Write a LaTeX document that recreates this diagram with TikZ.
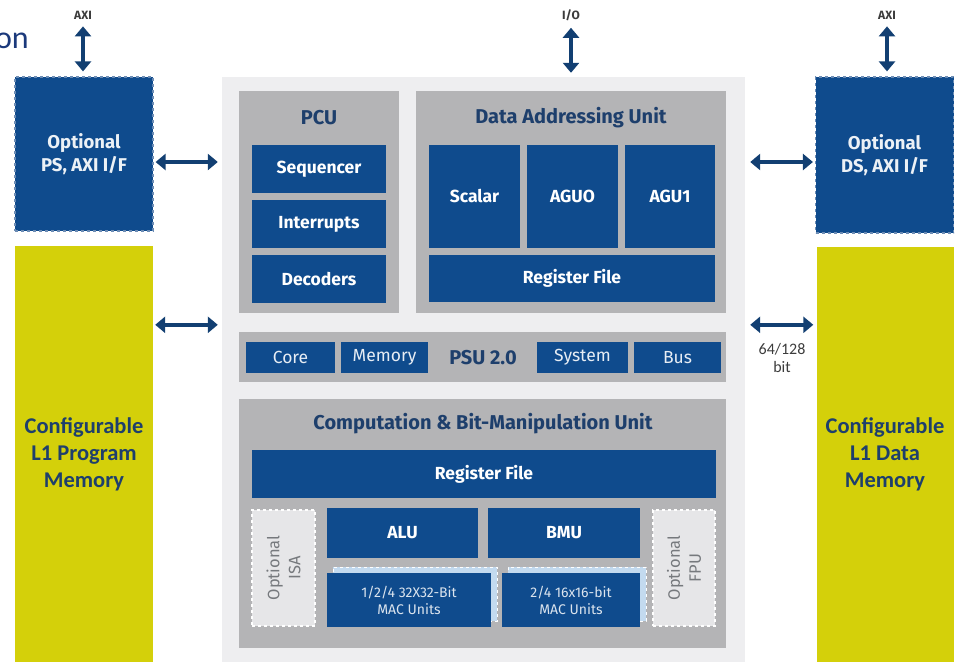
\documentclass[tikz,border=0pt]{standalone}
\usepackage{fontspec}
\setmainfont{Fira Sans}
\newfontfamily\calfont{Carlito}
\usetikzlibrary{arrows.meta,calc}

\definecolor{unitblue}{HTML}{0F4B8D}
\definecolor{framegray}{HTML}{B4B4B6}
\definecolor{pagegray}{HTML}{EEEEF0}
\definecolor{memyellow}{HTML}{D4D00A}
\definecolor{titleblue}{HTML}{1E3F6C}
\definecolor{arrowblue}{HTML}{123F72}
\definecolor{optgray}{HTML}{E6E6E8}
\definecolor{optborder}{HTML}{6D8DB5}
\definecolor{macframe}{HTML}{C3DAEF}
\definecolor{labelgray}{HTML}{3C3C3C}

\tikzset{
  sz/.style 2 args={minimum width=#1pt, minimum height=#2pt},
  base/.style={rectangle, inner sep=0pt, align=center},
  unit/.style={base, fill=unitblue, text=white,
    font=\fontsize{17.5}{20}\selectfont\bfseries},
  psuitem/.style={base, fill=unitblue, text=white!90!unitblue,
    font=\fontsize{17.5}{20}\selectfont},
  macunit/.style={base, fill=unitblue, text=white!85!unitblue,
    font=\fontsize{14}{17}\selectfont},
  macback/.style={base, fill=macframe, draw=white, dashed, line width=0.8pt},
  block/.style={base, fill=framegray},
  blocktitle/.style={inner sep=0pt, text=titleblue,
    font=\fontsize{20}{24}\selectfont\bfseries},
  optif/.style={base, fill=unitblue, draw=optborder, dashed, line width=1.2pt,
    text=white!92!unitblue, font=\fontsize{18.5}{23}\selectfont\bfseries},
  optunit/.style={base, fill=optgray, draw=white, dashed, line width=1.2pt,
    text=gray!90!titleblue, font=\fontsize{16.5}{21}\selectfont},
  memory/.style={base, fill=memyellow, text=titleblue,
    font=\calfont\fontsize{22.5}{27}\selectfont\bfseries},
  portlabel/.style={inner sep=0pt, text=labelgray,
    font=\fontsize{12}{14}\selectfont\bfseries},
  bi/.style={draw=arrowblue, line width=4.5pt,
    {Triangle[width=16pt,length=10pt]}-{Triangle[width=16pt,length=10pt]}},
}

\begin{document}
\begin{tikzpicture}[x=1pt,y=-1pt]
\useasboundingbox (0,0) rectangle (955,662);

% tail of the heading line
\node[anchor=base east, inner sep=0pt, text=titleblue!90!blue,
  font=\calfont\fontsize{32}{36}\selectfont] (head) at (29,48) {on};

% processor core background
\node[base, fill=pagegray, sz={523}{585}] (main) at (483.5,369.5) {};

% program side
\node[optif, sz={138}{154}] (ps) at (84,154) {Optional\\PS, AXI I/F};
\node[memory, sz={138}{416}] (pmem) at (84,454) {Configurable\\L1 Program\\Memory};

% data side
\node[optif, sz={138}{156}] (ds) at (884.5,155) {Optional\\DS, AXI I/F};
\node[memory, sz={137}{415}] (dmem) at (885,454.5) {Configurable\\L1 Data\\Memory};

% port labels
\node[portlabel] (axil) at (83,15) {AXI};
\node[portlabel] (io) at (571,15) {I/O};
\node[portlabel] (axir) at (887,15) {AXI};

% PCU
\node[block, sz={160}{222}] (pcu) at (319,202) {};
\node[blocktitle] (pcut) at (319,118) {PCU};
\node[unit, sz={134}{48}] (seq) at (319,169) {Sequencer};
\node[unit, sz={134}{48}] (irq) at (319,224) {Interrupts};
\node[unit, sz={134}{48}] (dec) at (319,279) {Decoders};

% Data Addressing Unit
\node[block, sz={310}{222}] (dau) at (571,202) {};
\node[blocktitle] (daut) at (571,118) {Data Addressing Unit};
\node[unit, sz={91}{103}] (scalar) at (474.5,196.5) {Scalar};
\node[unit, sz={91}{103}] (agu0) at (572.5,196.5) {AGUO};
\node[unit, sz={90}{103}] (agu1) at (670,196.5) {AGU1};
\node[unit, sz={286}{47}] (darf) at (572,278.5) {Register File};

% PSU 2.0 bar
\node[block, sz={487}{50}] (psu) at (482.5,357) {};
\node[psuitem, sz={89}{31}] (pcore) at (290.5,357.5) {Core};
\node[psuitem, sz={87}{31}] (pmemu) at (384.5,357.5) {Memory};
\node[blocktitle] (psut) at (483,357.5) {PSU 2.0};
\node[psuitem, sz={91}{31}] (psys) at (582.5,357.5) {System};
\node[psuitem, sz={87}{31}] (pbus) at (677.5,357.5) {Bus};

% Computation & Bit-Manipulation Unit
\node[block, sz={487}{249}] (cbmu) at (482.5,523.5) {};
\node[blocktitle] (cbmut) at (483,424) {Computation \& Bit-Manipulation Unit};
\node[unit, sz={464}{48}] (cbrf) at (484,474) {Register File};
\node[optunit, sz={63}{116}] (isa) at (283.5,568) {};
\node[optunit, rotate=90, fill=none, draw=none] (isat) at (283.5,568) {Optional\\ISA};
\node[unit, sz={151}{50}] (alu) at (402.5,533) {ALU};
\node[unit, sz={152}{50}] (bmu) at (564,533) {BMU};
\node[optunit, sz={62}{116}] (fpu) at (684,568) {};
\node[optunit, rotate=90, fill=none, draw=none] (fput) at (684,568) {Optional\\FPU};
\node[macback, sz={164}{54}] (mac1b) at (415,594) {};
\node[macback, sz={138}{54}] (mac2b) at (577,594) {};
\node[macunit, sz={164}{54}] (mac1) at (409,600) {1/2/4 32X32-Bit\\MAC Units};
\node[macunit, sz={138}{54}] (mac2) at (571,600) {2/4 16x16-bit\\MAC Units};

% external ports
\draw[bi] ($(axil.south)+(0,7)$) -- ($(ps.north)+(-1,-5)$);
\draw[bi] ($(io.south)+(0,7)$) -- ($(io.south |- main.north)+(0,-4)$);
\draw[bi] ($(axir.south)+(0,7)$) -- ($(axir.south |- ds.north)+(0,-5)$);

% side buses
\draw[bi] ($(ps.east)+(2,8)$) -- ($(ps.east -| main.west)+(-4,8)$);
\draw[bi] ($(pmem.north east)+(2,79)$) -- ($(pmem.north east -| main.west)+(-4,79)$);
\draw[bi] ($(ds.west -| main.east)+(5,7)$) -- ($(ds.west)+(-2,7)$);
\draw[bi] ($(dmem.north west -| main.east)+(5,78)$) -- ($(dmem.north west)+(-3,78)$);
\node[inner sep=0pt, text=labelgray, align=center,
  font=\calfont\fontsize{16}{18}\selectfont] (width) at (782,358) {64/128\\bit};

\end{tikzpicture}
\end{document}
